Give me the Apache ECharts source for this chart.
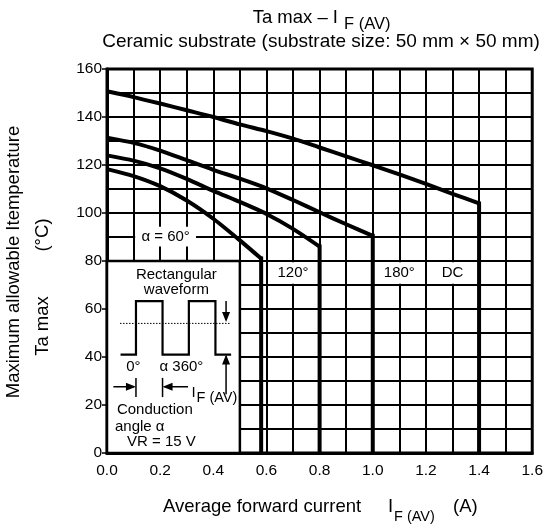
<!DOCTYPE html>
<html>
<head>
<meta charset="utf-8">
<script src="https://cdn.jsdelivr.net/npm/echarts@6/dist/echarts.min.js"></script>
<style>
html,body{margin:0;padding:0;background:#fff;}
#c{width:546px;height:524px;}
</style>
</head>
<body>
<div id="c"></div>
<script>
// ---- data ----
const xTicks = ['0.0','0.2','0.4','0.6','0.8','1.0','1.2','1.4','1.6'];
const yTicks = [0,20,40,60,80,100,120,140,160];

const dcX   = [0, 0.1, 0.2, 0.3, 0.4, 0.5, 0.6, 0.7, 0.8, 0.9, 1.0, 1.1, 1.2, 1.3, 1.4, 1.4];
const dcY   = [150.7, 148.3, 145.6, 142.8, 140, 136.9, 134.1, 131, 127.3, 123.6, 119.9, 116.1, 112.1, 108, 104, 0];
const a180X = [0, 0.1, 0.2, 0.3, 0.4, 0.5, 0.6, 0.7, 0.8, 0.9, 1.0, 1.0];
const a180Y = [131.4, 129.2, 126, 122, 118, 114.3, 110.3, 105.4, 100.3, 95.3, 90.5, 0];
const a120X = [0, 0.1, 0.2, 0.3, 0.4, 0.5, 0.6, 0.7, 0.8, 0.8];
const a120Y = [124, 121.8, 118.6, 114.2, 109.2, 104.6, 99.6, 93.4, 86, 0];
const a60X  = [0, 0.1, 0.2, 0.3, 0.4, 0.5, 0.58, 0.58];
const a60Y  = [118.3, 115.4, 111.2, 105.2, 97.6, 88.6, 81, 0];

const curveLabels = ['\u03b1 = 60\u00b0', '120\u00b0', '180\u00b0', 'DC'];

const FONT = 'Liberation Sans, Arial, Helvetica, sans-serif';
const pairs = (xs, ys) => xs.map((x, i) => [x, ys[i]]);

const chart = echarts.init(document.getElementById('c'), null, {renderer: 'canvas'});

function curve(name, xs, ys) {
  const all = pairs(xs, ys);
  const n = all.length;
  const base = {type: 'line', z: 5, showSymbol: false, symbol: 'none', animation: false, silent: true};
  return [
    Object.assign({}, base, {name: name, data: all.slice(0, n - 1), smooth: 0.25,
      lineStyle: {color: '#000', width: 4, cap: 'butt'}}),
    Object.assign({}, base, {name: name + ' limit', data: all.slice(n - 2), smooth: false,
      lineStyle: {color: '#000', width: 4, cap: 'square'}})
  ];
}

const labelStyle = {show: true, position: 'inside', color: '#000', fontSize: 15, fontFamily: FONT};
const whiteBox = {color: '#fff', borderWidth: 0};

const option = {
  animation: false,
  backgroundColor: '#fff',
  grid: {left: 107, right: 12, top: 69, bottom: 71, show: true, borderColor: '#000', borderWidth: 3, backgroundColor: 'transparent'},
  xAxis: {
    type: 'value', min: 0, max: 1.6, interval: 0.2,
    axisLine: {show: true, lineStyle: {color: '#000', width: 3}},
    axisTick: {show: false},
    axisLabel: {color: '#000', fontSize: 15.5, fontFamily: FONT, margin: 10,
      formatter: v => xTicks[Math.round(v / 0.2)]},
    splitLine: {show: true, lineStyle: {color: '#000', width: 2}},
    minorTick: {show: false, splitNumber: 2},
    minorSplitLine: {show: true, lineStyle: {color: '#000', width: 2}}
  },
  yAxis: {
    type: 'value', min: 0, max: 160, interval: 20,
    axisLine: {show: true, lineStyle: {color: '#000', width: 3}},
    axisTick: {show: true, inside: false, length: 5, lineStyle: {color: '#000', width: 1.5}},
    axisLabel: {color: '#000', fontSize: 15.5, fontFamily: FONT, margin: 5,
      formatter: v => String(yTicks[Math.round(v / 20)])},
    splitLine: {show: true, lineStyle: {color: '#000', width: 2}},
    minorTick: {show: false, splitNumber: 2},
    minorSplitLine: {show: true, lineStyle: {color: '#000', width: 2}}
  },
  series: [
    {
      name: 'boxes', type: 'line', data: [], z: 2, silent: true,
      markArea: {
        silent: true,
        data: [
          [{coord: [0, 0], itemStyle: {color: '#fff', borderColor: '#000', borderWidth: 2.5}}, {coord: [0.5, 80]}],
          [{coord: [0.106, 86], itemStyle: whiteBox, label: Object.assign({}, labelStyle, {formatter: curveLabels[0]})}, {coord: [0.335, 94.3]}],
          [{coord: [0.606, 70.5], itemStyle: whiteBox, label: Object.assign({}, labelStyle, {formatter: curveLabels[1]})}, {coord: [0.794, 79.5]}],
          [{coord: [1.006, 70.5], itemStyle: whiteBox, label: Object.assign({}, labelStyle, {formatter: curveLabels[2]})}, {coord: [1.194, 79.5]}],
          [{coord: [1.206, 70.5], itemStyle: whiteBox, label: Object.assign({}, labelStyle, {formatter: curveLabels[3]})}, {coord: [1.394, 79.5]}]
        ]
      }
    }
  ].concat(curve('DC', dcX, dcY), curve('180', a180X, a180Y), curve('120', a120X, a120Y), curve('60', a60X, a60Y))
};
chart.setOption(option);

// ---- annotations (titles, axis names, inset drawing) ----
const P = (x, y) => chart.convertToPixel({xAxisIndex: 0, yAxisIndex: 0}, [x, y]);
const txt = (text, x, y, size, align, extra) => Object.assign({
  type: 'text', z: 50, x: x, y: y,
  style: {text: text, fill: '#000', font: size + 'px ' + FONT, textAlign: align || 'center', textVerticalAlign: 'middle'}
}, extra || {});
const seg = (a, b, w, dash) => ({type: 'line', z: 40,
  shape: {x1: a[0], y1: a[1], x2: b[0], y2: b[1]},
  style: {stroke: '#000', lineWidth: w || 1.5, lineDash: dash || null}});
const tri = (pts) => ({type: 'polygon', z: 41, shape: {points: pts}, style: {fill: '#000'}});
const dTxt = (text, dx, dy, size, align) => { const p = P(dx, dy); return txt(text, p[0], p[1], size, align); };

const wave = [[0.051,41],[0.109,41],[0.109,63.3],[0.209,63.3],[0.209,41],[0.308,41],[0.308,63.3],[0.408,63.3],[0.408,41],[0.467,41]].map(q => P(q[0], q[1]));

const arX = 0.448;
const aTop = P(arX, 63.3), aDown = P(arX, 54.6), aUp = P(arX, 41), aBot = P(arX, 24.5);
const c1a = P(0.109, 31.3), c1b = P(0.109, 23.3), c2a = P(0.209, 31.3), c2b = P(0.209, 23.3);
const hl1 = P(0.024, 27.6), hl1t = P(0.109, 27.6), hr1 = P(0.305, 27.6), hr1t = P(0.209, 27.6);
const iAV = P(0.318, 25);

const g = [
  // titles
  txt('Ta max \u2013 I', 338, 17.5, 18.5, 'right'),
  txt('F (AV)', 344, 24.5, 16.5, 'left'),
  txt('Ceramic substrate (substrate size: 50 mm \u00d7 50 mm)', 321, 41.5, 19, 'center'),
  // x axis name
  txt('Average forward current', 163, 507, 18.5, 'left'),
  txt('I', 388, 507, 18.5, 'left'),
  txt('F (AV)', 394, 516.5, 14.5, 'left'),
  txt('(A)', 453, 507, 18.5, 'left'),
  // y axis names
  txt('Maximum allowable Itemperature', 14, 262, 18.5, 'center', {rotation: Math.PI / 2}),
  txt('Ta max', 43, 326, 18.5, 'center', {rotation: Math.PI / 2}),
  txt('(\u00b0C)', 43, 235, 18.5, 'center', {rotation: Math.PI / 2}),
  // inset
  dTxt('Rectangular', 0.261, 74.2, 15),
  dTxt('waveform', 0.261, 67.9, 15),
  {type: 'polyline', z: 40, shape: {points: wave}, style: {stroke: '#000', lineWidth: 2.2, fill: null}},
  seg(P(0.049, 54), P(0.461, 54), 1, [1.5, 1.5]),
  seg(aTop, [aDown[0], aDown[1] - 2], 1.5),
  tri([[aDown[0], aDown[1]], [aDown[0] - 4, aDown[1] - 10], [aDown[0] + 4, aDown[1] - 10]]),
  seg([aUp[0], aUp[1] + 2], aBot, 1.5),
  tri([[aUp[0], aUp[1]], [aUp[0] - 4, aUp[1] + 10], [aUp[0] + 4, aUp[1] + 10]]),
  dTxt('0\u00b0', 0.099, 36, 15),
  dTxt('\u03b1 360\u00b0', 0.28, 36, 15),
  seg(c1a, c1b, 1.5),
  seg(c2a, c2b, 1.5),
  seg(hl1, [hl1t[0] - 2, hl1t[1]], 1.5),
  tri([[hl1t[0], hl1t[1]], [hl1t[0] - 10, hl1t[1] - 4], [hl1t[0] - 10, hl1t[1] + 4]]),
  seg(hr1, [hr1t[0] + 2, hr1t[1]], 1.5),
  tri([[hr1t[0], hr1t[1]], [hr1t[0] + 10, hr1t[1] - 4], [hr1t[0] + 10, hr1t[1] + 4]]),
  txt('I', iAV[0], iAV[1], 15, 'left'),
  txt('F (AV)', iAV[0] + 5, iAV[1] + 4.5, 14.5, 'left'),
  dTxt('Conduction', 0.18, 17.9, 15),
  dTxt('angle \u03b1', 0.03, 11, 15, 'left'),
  dTxt('VR = 15 V', 0.205, 4.7, 15)
];
chart.setOption({graphic: {elements: g}});
</script>
</body>
</html>
